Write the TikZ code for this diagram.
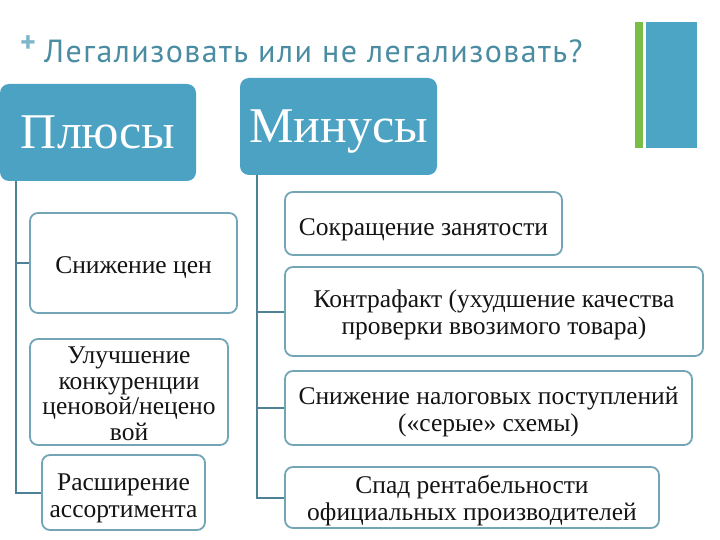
\documentclass[tikz,border=0pt]{standalone}
\usepackage{fontspec}
\setmainfont{Liberation Serif}
\newfontfamily\titlefont[LetterSpace=4.5]{PT Sans}
\newfontfamily\plusfont{PT Sans}
\definecolor{headblue}{HTML}{4CA2C2}
\definecolor{barblue}{HTML}{4DA5C6}
\definecolor{bargreen}{HTML}{78BD45}
\definecolor{titleblue}{HTML}{4A8CA2}
\definecolor{plusblue}{HTML}{7FB6CA}
\definecolor{boxline}{HTML}{74A5B7}
\definecolor{connline}{HTML}{4E8196}
\begin{document}
\begin{tikzpicture}[x=1pt,y=-1pt,
  head/.style={fill=headblue, rounded corners=9pt, text=white, inner sep=0pt,
    font=\fontsize{50}{50}\selectfont, text depth=0pt},
  item/.style={draw=boxline, line width=1.8pt, fill=white, rounded corners=8pt, inner sep=0pt},
  lbl/.style={font=\fontsize{25.5}{27}\selectfont, align=center, inner sep=0pt, text=black!92},
  conn/.style={draw=connline, line width=2pt},
  bar/.style={inner sep=0pt, minimum height=126pt}]
\useasboundingbox (0,0) rectangle (720,540);
\fill[white] (0,0) rectangle (720,540);
% title
\node[text=plusblue, font=\plusfont\bfseries\fontsize{30}{30}\selectfont, inner sep=0pt] (plus) at (28,44) {+};
\node[anchor=base west, font=\titlefont\fontsize{32}{32}\selectfont, text=titleblue, inner sep=0pt] (title) at (44,63) {Легализовать или не легализовать?};
% bars
\node[bar, fill=bargreen, minimum width=8pt] (gbar) at (639,85) {};
\node[bar, fill=barblue, minimum width=51pt] (bbar) at (671.5,85) {};
% headers
\node[head, minimum width=196pt, minimum height=97pt] (plusy) at (98,132.5) {Плюсы};
\node[head, minimum width=197pt, minimum height=97pt] (minusy) at (338.5,126.5) {Минусы};
% left items
\node[item, minimum width=207pt, minimum height=100pt] (cena) at (133.5,263) {};
\node[item, minimum width=198pt, minimum height=106pt] (uluch) at (129,392) {};
\node[item, minimum width=163pt, minimum height=75pt] (assort) at (123.5,492.5) {};
% right items
\node[item, minimum width=277pt, minimum height=63pt] (sokr) at (423.5,223.5) {};
\node[item, minimum width=418pt, minimum height=89pt] (kontra) at (494,311.5) {};
\node[item, minimum width=407pt, minimum height=74pt] (nalog) at (488.5,408) {};
\node[item, minimum width=374pt, minimum height=61pt] (spad) at (472,497.5) {};
% labels
\node[lbl] (cenaT) at ([yshift=-5pt]cena.center) {Снижение цен};
\node[lbl, font=\fontsize{25.5}{25.5}\selectfont] (uluchT) at ([yshift=-2pt]uluch.center) {Улучшение\\конкуренции\\ценовой/нецено\\вой};
\node[lbl] (assortT) at ([yshift=-6pt]assort.center) {Расширение\\ассортимента};
\node[lbl] (sokrT) at ([yshift=-6pt]sokr.center) {Сокращение занятости};
\node[lbl] (kontraT) at ([yshift=-3pt]kontra.center) {Контрафакт (ухудшение качества\\проверки ввозимого товара)};
\node[lbl] (nalogT) at ([yshift=-4pt]nalog.center) {Снижение налоговых поступлений\\(«серые» схемы)};
\node[lbl] (spadT) at ([yshift=-3pt]spad.center) {Спад рентабельности\\официальных производителей};
% connectors
\draw[conn] ([xshift=16pt]plusy.south west) |- (cena.west);
\draw[conn] ([xshift=16pt]plusy.south west) |- (assort.west);
\draw[conn] ([xshift=17pt]minusy.south west) |- (kontra.west);
\draw[conn] ([xshift=17pt]minusy.south west) |- (nalog.west);
\draw[conn] ([xshift=17pt]minusy.south west) |- (spad.west);
\end{tikzpicture}
\end{document}
